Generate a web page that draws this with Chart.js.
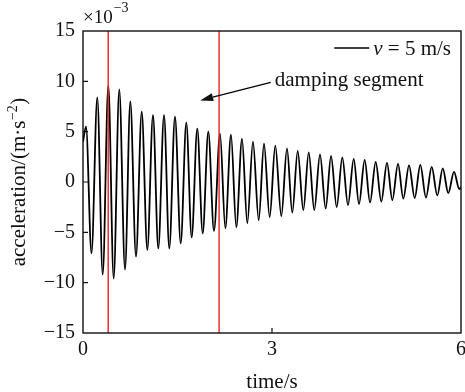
<!DOCTYPE html>
<html>
<head>
<meta charset="utf-8">
<script src="https://cdn.jsdelivr.net/npm/chart.js@4/dist/chart.umd.min.js"></script>
<style>
html,body{margin:0;padding:0;background:#fff;}
#wrap{width:465px;height:392px;position:relative;}
</style>
</head>
<body>
<div id="wrap"><canvas id="chartAcc" width="465" height="392"></canvas></div>
<script>

/* extrema of the trace, time in s, acceleration in 1e-3 m/s^2 */

const accelTime = [
0, 0.048, 0.135, 0.227, 0.313, 0.402, 0.487, 0.576, 0.667, 0.751, 0.841, 0.932,
1.021, 1.111, 1.195, 1.286, 1.370, 1.460, 1.551, 1.640, 1.725, 1.814, 1.900, 1.989,
2.079, 2.175, 2.259, 2.349, 2.433, 2.524, 2.608, 2.698, 2.789, 2.873, 2.963, 3.052,
3.148, 3.238, 3.322, 3.408, 3.497, 3.583, 3.671, 3.762, 3.852, 3.937, 4.027, 4.116,
4.206, 4.297, 4.381, 4.471, 4.556, 4.646, 4.735, 4.825, 4.910, 5.000, 5.084, 5.175,
5.265, 5.354, 5.444, 5.535, 5.624, 5.710, 5.798, 5.889, 5.973, 6.0
];

const accelValue = [
4.0, 5.5, -7.1, 8.4, -9.2, 9.6, -9.6, 9.2, -8.7, 8.0, -7.4, 7.0,
-6.75, 6.65, -6.6, 6.65, -6.6, 6.5, -6.1, 5.9, -5.5, 5.3, -5.1, 5.0,
-4.85, 4.8, -4.6, 4.7, -4.5, 4.3, -4.1, 4.0, -3.8, 3.8, -3.5, 3.6,
-3.4, 3.35, -3.05, 3.1, -2.8, 2.95, -2.8, 2.75, -2.65, 2.6, -2.5, 2.45,
-2.3, 2.3, -2.2, 2.2, -2.05, 2.0, -1.95, 1.9, -1.8, 1.8, -1.65, 1.65,
-1.6, 1.7, -1.55, 1.5, -1.35, 1.35, -1.1, 1.0, -0.7, -0.5
];

const markerTimes = [0.40, 2.16];

const xTicks = [0, 3, 6];
const yTicks = [-15, -10, -5, 0, 5, 10, 15];

const seriesLabel = "v = 5 m/s";
const noteText = "damping segment";
/* arrow of the note, in data units: tail then tip */
const noteArrow = [[2.98, 9.9], [1.86, 8.1]];

const SERIF = '"Liberation Serif", "Times New Roman", serif';

let datasets = [];

datasets.push({
label: seriesLabel,
data: accelTime.map((t, i) => ({x: t, y: accelValue[i]})),
borderColor: "#000",
borderWidth: 1.8,
pointRadius: 0,
cubicInterpolationMode: "monotone",
order: 2
});

markerTimes.forEach(t => {
datasets.push({
label: "marker",
data: [{x: t, y: yTicks[0]}, {x: t, y: yTicks[yTicks.length - 1]}],
borderColor: "#e8231f",
borderWidth: 1.4,
pointRadius: 0,
order: 1
});
});

function minus(v){ return String(v).replace("-", "\u2212"); }

/* frame, inward ticks, titles, legend and note */

const decor = {
id: "decor",
afterDatasetsDraw(chart){
const ctx = chart.ctx;
const a = chart.chartArea;
const xs = chart.scales.x, ys = chart.scales.y;
ctx.save();

ctx.strokeStyle = "#111";
ctx.lineWidth = 1.4;
ctx.strokeRect(a.left, a.top, a.right - a.left, a.bottom - a.top);

ctx.lineWidth = 1.2;
ctx.beginPath();
yTicks.slice(1, -1).forEach(v => {
let py = ys.getPixelForValue(v);
ctx.moveTo(a.left, py); ctx.lineTo(a.left + 5, py);
});
xTicks.slice(1, -1).forEach(v => {
let px = xs.getPixelForValue(v);
ctx.moveTo(px, a.bottom); ctx.lineTo(px, a.bottom - 5);
});
ctx.stroke();

ctx.fillStyle = "#111";

/* exponent */
ctx.textBaseline = "alphabetic";
ctx.textAlign = "left";
ctx.font = "19px " + SERIF;
ctx.fillText("\u00d710", a.left, a.top - 8);
let w10 = ctx.measureText("\u00d710").width;
ctx.font = "14px " + SERIF;
ctx.fillText("\u22123", a.left + w10 + 1, a.top - 19);

/* x title */
ctx.font = "21px " + SERIF;
ctx.textAlign = "center";
ctx.fillText("time/s", (a.left + a.right) / 2, chart.height - 4);

/* y title */
ctx.save();
ctx.translate(25, (a.top + a.bottom) / 2);
ctx.rotate(-Math.PI / 2);
ctx.textAlign = "left";
let p1 = "acceleration/(m\u00b7s", p2 = "\u22122", p3 = ")";
ctx.font = "21px " + SERIF;
let w1 = ctx.measureText(p1).width, w3 = ctx.measureText(p3).width;
ctx.font = "14px " + SERIF;
let w2 = ctx.measureText(p2).width;
let x0 = -(w1 + w2 + w3 + 1) / 2;
ctx.font = "21px " + SERIF;
ctx.fillText(p1, x0, 0);
ctx.font = "14px " + SERIF;
ctx.fillText(p2, x0 + w1 + 0.5, -8);
ctx.font = "21px " + SERIF;
ctx.fillText(p3, x0 + w1 + w2 + 1, 0);
ctx.restore();

/* legend */
ctx.font = "21px " + SERIF;
ctx.textAlign = "left";
let rest = seriesLabel.slice(1);
let wRest = ctx.measureText(rest).width;
ctx.font = "italic 21px " + SERIF;
let wV = ctx.measureText(seriesLabel[0]).width;
let lx = a.right - 10 - wRest - wV;
ctx.fillText(seriesLabel[0], lx, a.top + 24);
ctx.font = "21px " + SERIF;
ctx.fillText(rest, lx + wV, a.top + 24);
ctx.lineWidth = 1.5;
ctx.strokeStyle = "#000";
ctx.beginPath();
ctx.moveTo(lx - 39, a.top + 17); ctx.lineTo(lx - 4, a.top + 17);
ctx.stroke();

/* note with arrow */
let tx = xs.getPixelForValue(noteArrow[0][0]), ty = ys.getPixelForValue(noteArrow[0][1]);
let hx = xs.getPixelForValue(noteArrow[1][0]), hy = ys.getPixelForValue(noteArrow[1][1]);
ctx.fillText(noteText, tx + 4, ty + 4);
let ang = Math.atan2(hy - ty, hx - tx);
let bx = hx - 13 * Math.cos(ang), by = hy - 13 * Math.sin(ang);
ctx.lineWidth = 1.3;
ctx.beginPath();
ctx.moveTo(tx, ty); ctx.lineTo(bx, by);
ctx.stroke();
ctx.beginPath();
ctx.moveTo(hx, hy);
ctx.lineTo(bx + 4 * Math.sin(ang), by - 4 * Math.cos(ang));
ctx.lineTo(bx - 4 * Math.sin(ang), by + 4 * Math.cos(ang));
ctx.closePath();
ctx.fill();

ctx.restore();
}
};

new Chart(document.getElementById("chartAcc"), {
type: "line",
data: {datasets},
plugins: [decor],
options: {
responsive: false,
animation: false,
layout: {padding: {top: 31, right: 4, left: 0, bottom: 0}},
plugins: {legend: {display: false}, tooltip: {enabled: false}},
scales: {
x: {
type: "linear",
min: xTicks[0], max: xTicks[xTicks.length - 1],
afterFit: s => { s.height = 59; s.paddingLeft = 0; s.paddingRight = 0; },
afterBuildTicks: s => { s.ticks = xTicks.map(v => ({value: v})); },
grid: {display: false, drawTicks: false},
border: {display: false},
ticks: {padding: 5, color: "#111", font: {family: SERIF, size: 20}, maxRotation: 0, callback: minus}
},
y: {
type: "linear",
min: yTicks[0], max: yTicks[yTicks.length - 1],
afterFit: s => { s.width = 83; s.paddingTop = 0; s.paddingBottom = 0; },
afterBuildTicks: s => { s.ticks = yTicks.map(v => ({value: v})); },
grid: {display: false, drawTicks: false},
border: {display: false},
ticks: {padding: 8, color: "#111", font: {family: SERIF, size: 20}, callback: minus}
}
}
}
});

</script>
</body>
</html>
